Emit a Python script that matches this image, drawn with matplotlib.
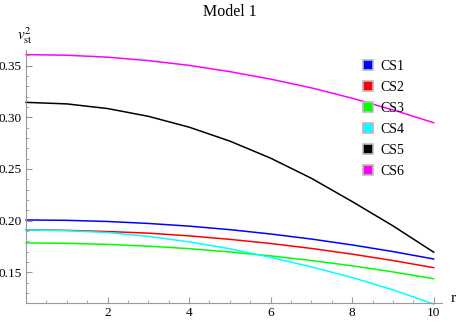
import matplotlib
matplotlib.use("Agg")
from matplotlib import pyplot as plt
from matplotlib.lines import Line2D
from matplotlib.ticker import MultipleLocator, FormatStrFormatter

plt.rcParams['font.family'] = ['Liberation Serif', 'DejaVu Serif']
plt.rcParams['mathtext.fontset'] = 'stix'

# values
r = [0, 1, 2, 3, 4, 5, 6, 7, 8, 9, 10]
cs1 = [0.2007, 0.2003, 0.1992, 0.1973, 0.1947, 0.1913, 0.1871, 0.1822, 0.1765, 0.1701, 0.1629]
cs2 = [0.1910, 0.1906, 0.1895, 0.1879, 0.1853, 0.1819, 0.1779, 0.1731, 0.1676, 0.1614, 0.1545]
cs3 = [0.1784, 0.1781, 0.1770, 0.1753, 0.1729, 0.1697, 0.1659, 0.1614, 0.1563, 0.1504, 0.1438]
cs4 = [0.1910, 0.1903, 0.1885, 0.1848, 0.1795, 0.1728, 0.1645, 0.1552, 0.1450, 0.1330, 0.1193]
cs5 = [0.3145, 0.3130, 0.3085, 0.3010, 0.2905, 0.2770, 0.2605, 0.2410, 0.2185, 0.1950, 0.1695]
cs6 = [0.3607, 0.3601, 0.3582, 0.3549, 0.3503, 0.3442, 0.3370, 0.3285, 0.3185, 0.3072, 0.2948]

labels = ["CS1", "CS2", "CS3", "CS4", "CS5", "CS6"]
series = [cs1, cs2, cs3, cs4, cs5, cs6]
COLOURS = ["#0000ff", "#ff0000", "#00ff00", "#00ffff", "#000000", "#ff00ff"]

fig = plt.figure(figsize=(4.6, 3.24), dpi=100)
ax = fig.add_axes([0.0565, 0.0648, 0.904, 0.781])

for ys, c in zip(series, COLOURS):
    ax.plot(r, ys, color=c, lw=1.1, clip_on=False)

ax.set_xlim(0, 10.2)
ax.set_ylim(0.1203, 0.3652)

for s in ['top', 'right']:
    ax.spines[s].set_visible(False)
for s in ['left', 'bottom']:
    ax.spines[s].set_color('#999999')
    ax.spines[s].set_linewidth(0.8)

ax.xaxis.set_minor_locator(MultipleLocator(0.5))
ax.yaxis.set_major_locator(MultipleLocator(0.05))
ax.yaxis.set_minor_locator(MultipleLocator(0.01))
ax.set_xticks([2, 4, 6, 8, 10])
ax.tick_params(which='both', direction='in', color='#999999', labelsize=9.5, pad=3)
ax.tick_params(which='major', length=4, width=0.8)
ax.tick_params(which='minor', length=2.5, width=0.6)
ax.yaxis.set_major_formatter(FormatStrFormatter('%.2f'))

fig.text(0.5, 0.962, "Model 1", ha='center', va='center', fontsize=11.5)
fig.text(0.054, 0.89, r"$v_{\rm st}^2$", ha='center', va='center', fontsize=11)
fig.text(0.985, 0.08, "r", ha='center', va='center', fontsize=11)

handles = [Line2D([], [], ls='none', marker='s', markersize=7.5, markerfacecolor=c,
                  markeredgecolor='#bbbbbb', markeredgewidth=1.2) for c in COLOURS]
ax.legend(handles, labels, loc='upper left', bbox_to_anchor=(0.772, 0.836),
          bbox_transform=fig.transFigure, frameon=False, fontsize=10,
          handlelength=0.9, handletextpad=0.4, labelspacing=0.58, borderpad=0)

fig.savefig("out.png", dpi=100)
